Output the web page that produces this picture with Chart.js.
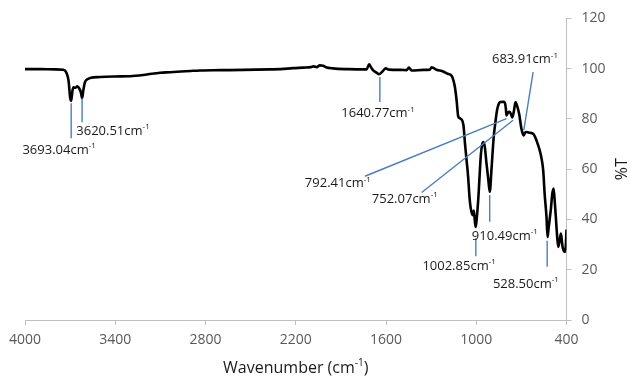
<!DOCTYPE html>
<html>
<head>
<meta charset="utf-8">
<script src="https://cdn.jsdelivr.net/npm/chart.js@4.4.1/dist/chart.umd.min.js"></script>
<style>
  body { margin: 0; background: #fff; }
  #wrap { width: 630px; height: 379px; }
</style>
</head>
<body>
<div id="wrap"><canvas id="ftir" width="630" height="379"></canvas></div>
<script>
// Spectrum (wavenumber in cm-1, %T)
const wavenumbers = [4000, 3900, 3800, 3745, 3722, 3710, 3700, 3693, 3685, 3678, 3665, 3652, 3640, 3628, 3620, 3612, 3601, 3585, 3567, 3500,
  3400, 3302, 3200, 3102, 3035, 2900, 2837, 2703, 2550, 2371, 2300, 2218, 2150, 2100, 2080, 2061, 2040, 2019, 2000, 1953,
  1850, 1729, 1712, 1700, 1685, 1660, 1647, 1625, 1601, 1580, 1500, 1463, 1448, 1430, 1350, 1308, 1297, 1286, 1264, 1220,
  1190, 1164, 1142, 1130, 1120, 1110, 1098, 1085, 1076, 1065, 1054, 1045, 1038, 1025, 1016, 1005, 1000, 987, 969, 960,
  954, 943, 932, 920, 910, 899, 884, 872, 862, 850, 839, 820, 810, 803, 799, 790, 778, 768, 760, 750,
  739, 730, 715, 700, 690, 684, 675, 666, 645, 622, 610, 600, 578, 565, 555, 545, 533, 526, 520, 510,
  504, 495, 486, 478, 471, 463, 455, 446, 437, 430, 426, 418, 411, 405, 400];
const transmittance = [99.8, 99.8, 99.7, 99.6, 98, 95, 88.5, 87.2, 91, 92.6, 92.4, 93, 92.2, 90.5, 88.2, 91.5, 94.7, 95.8, 96.3, 96.7,
  96.9, 97.0, 97.6, 98.4, 98.6, 99.1, 99.3, 99.4, 99.5, 99.7, 99.8, 100.2, 100.4, 100.6, 100.9, 100.6, 101.3, 101.2, 100.6, 100.1,
  99.8, 99.7, 101.7, 100.6, 99.3, 98.3, 97.8, 98.8, 100.1, 99.6, 99.5, 99.4, 100.4, 99.3, 99.5, 99.6, 100.5, 100.3, 99.6, 98.9,
  98, 97.2, 92.7, 87, 81, 80.3, 79.8, 77.5, 71, 64, 57, 49, 45, 41.7, 43.5, 37, 38.5, 47.7, 66, 70,
  70.8, 68.9, 62.3, 56, 51, 59.6, 72.8, 79, 83.4, 86, 86.7, 86.8, 86.5, 84, 81.4, 82.4, 82.8, 81.8, 80.6, 83,
  86.7, 85.5, 82.1, 76.2, 74, 73.4, 74.6, 74.8, 74.5, 74.1, 73, 71.5, 67.5, 64, 59.6, 50, 41, 33, 36, 41,
  44, 50, 52.3, 47, 41, 34, 29.1, 31.5, 34.4, 31, 29.1, 27.5, 27.1, 29, 36];

const xTickValues = [4000, 3400, 2800, 2200, 1600, 1000, 400];
const yTickValues = [0, 20, 40, 60, 80, 100, 120];

// Peak annotations: label, leader line [wn1, T1, wn2, T2], label centre [wn, T]
const peakLabels = ['3693.04', '3620.51', '1640.77', '683.91', '792.41', '752.07', '910.49', '1002.85', '528.50'];
const peakLeaders = [
  [3693, 86.2, 3693, 72.3],
  [3620.5, 88.2, 3620.5, 78.7],
  [1640.8, 96.7, 1640.8, 86.7],
  [684, 75.5, 622, 98.6],
  [799, 80.1, 1740, 57.2],
  [755, 79.5, 1363, 50.7],
  [910.5, 49.7, 910.5, 39.1],
  [1002.9, 32.5, 1002.9, 25.4],
  [528.5, 31.5, 528.5, 21.2]
];
const peakLabelAt = [[3773, 67.5], [3415, 75.2], [1653, 82.1], [676, 103.6], [1920, 54.3], [1475, 48], [810, 33.4], [1114, 21.5], [670, 14.2]];

const FONT = '"Open Sans", "Noto Sans", sans-serif';

// text with a "-1" superscript, centred at (cx, cy)
function drawSup(ctx, base, sup, cx, cy, size, color) {
    ctx.save();
    ctx.fillStyle = color;
    ctx.textBaseline = 'middle';
    ctx.textAlign = 'left';
    ctx.font = size + 'px ' + FONT;
    const w1 = ctx.measureText(base).width;
    ctx.font = Math.round(size * 0.62) + 'px ' + FONT;
    const w2 = ctx.measureText(sup).width;
    const x0 = cx - (w1 + w2) / 2;
    ctx.font = size + 'px ' + FONT;
    ctx.fillText(base, x0, cy);
    ctx.font = Math.round(size * 0.62) + 'px ' + FONT;
    ctx.fillText(sup, x0 + w1, cy - size * 0.32);
    ctx.restore();
}

const annotate = {
    id: 'annotate',
    afterDatasetsDraw(chart) {
        const ctx = chart.ctx;
        const xs = chart.scales.x, ys = chart.scales.y;
        ctx.save();
        ctx.strokeStyle = '#4a7ebb';
        ctx.lineWidth = 1.4;
        peakLeaders.forEach(l => {
            ctx.beginPath();
            ctx.moveTo(xs.getPixelForValue(l[0]), ys.getPixelForValue(l[1]));
            ctx.lineTo(xs.getPixelForValue(l[2]), ys.getPixelForValue(l[3]));
            ctx.stroke();
        });
        ctx.restore();
        peakLabels.forEach((t, i) => {
            const p = peakLabelAt[i];
            drawSup(ctx, t + 'cm', '-1', xs.getPixelForValue(p[0]), ys.getPixelForValue(p[1]), 13, '#1a1a1a');
        });
    },
    afterDraw(chart) {
        const ctx = chart.ctx;
        const a = chart.chartArea;
        // x axis title
        ctx.save();
        ctx.fillStyle = '#1a1a1a';
        ctx.textBaseline = 'middle';
        const cx = (a.left + a.right) / 2;
        const cy = 368;
        ctx.font = '16px ' + FONT;
        const wA = ctx.measureText('Wavenumber (cm').width;
        ctx.font = '10px ' + FONT;
        const wS = ctx.measureText('-1').width;
        ctx.font = '16px ' + FONT;
        const wB = ctx.measureText(')').width;
        const x0 = cx - (wA + wS + wB) / 2;
        ctx.fillText('Wavenumber (cm', x0, cy);
        ctx.font = '10px ' + FONT;
        ctx.fillText('-1', x0 + wA, cy - 5);
        ctx.font = '16px ' + FONT;
        ctx.fillText(')', x0 + wA + wS, cy);
        // y axis title, reads bottom to top
        ctx.translate(622, (a.top + a.bottom) / 2);
        ctx.rotate(-Math.PI / 2);
        ctx.textAlign = 'center';
        ctx.fillText('%T', 0, 0);
        ctx.restore();
    }
};

const points = wavenumbers.map((w, i) => ({ x: w, y: transmittance[i] }));

new Chart(document.getElementById('ftir'), {
    type: 'line',
    data: {
        datasets: [{
            data: points,
            borderColor: '#000',
            borderWidth: 2.6,
            pointRadius: 0,
            cubicInterpolationMode: 'monotone',
            fill: false
        }]
    },
    options: {
        responsive: false,
        animation: false,
        layout: { padding: { top: 18, left: 25, right: 0, bottom: 0 } },
        plugins: { legend: { display: false }, tooltip: { enabled: false } },
        scales: {
            x: {
                type: 'linear',
                reverse: true,
                min: 400,
                max: 4000,
                afterBuildTicks(s) { s.ticks = xTickValues.map(v => ({ value: v })); },
                afterFit(s) { s.height = 59; },
                grid: { display: true, drawOnChartArea: false, drawTicks: true, tickLength: 5, color: '#bfbfbf' },
                border: { display: true, color: '#bfbfbf' },
                ticks: { color: '#595959', font: { family: FONT, size: 14 }, padding: 7, maxRotation: 0, callback: v => String(v) }
            },
            y: {
                position: 'right',
                min: 0,
                max: 120,
                afterBuildTicks(s) { s.ticks = yTickValues.map(v => ({ value: v })); },
                afterFit(s) { s.width = 63.5; },
                grid: { display: true, drawOnChartArea: false, drawTicks: true, tickLength: 5, color: '#bfbfbf' },
                border: { display: true, color: '#bfbfbf' },
                ticks: { color: '#595959', font: { family: FONT, size: 14 }, padding: 10, callback: v => String(v) }
            }
        }
    },
    plugins: [annotate]
});
</script>
</body>
</html>
